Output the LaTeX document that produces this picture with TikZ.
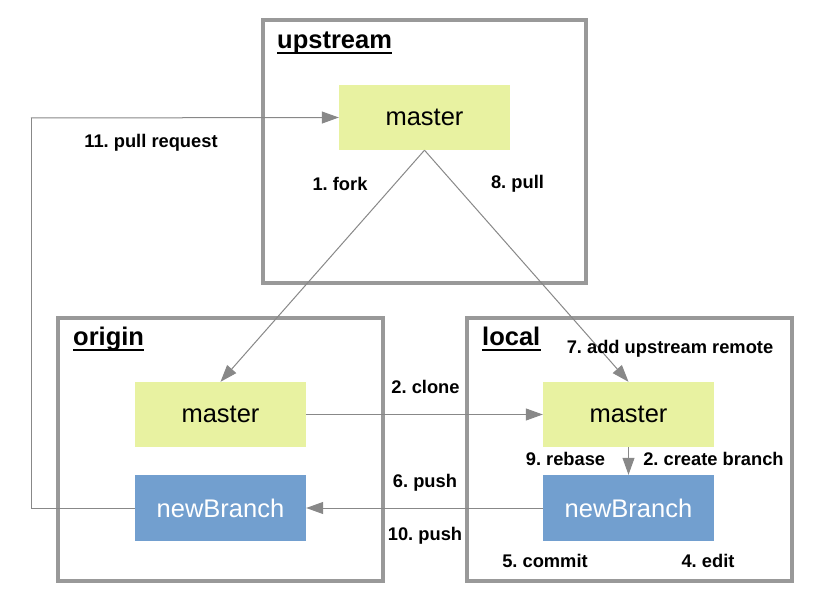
\documentclass[tikz,border=0pt]{standalone}
\usepackage{fontspec}
\setmainfont{Liberation Sans}
\usetikzlibrary{arrows.meta}
\definecolor{boxborder}{HTML}{999999}
\definecolor{linegray}{HTML}{888888}
\definecolor{masterfill}{HTML}{E8F2A1}
\definecolor{branchfill}{HTML}{729FCF}
\frenchspacing
\begin{document}
\begin{tikzpicture}[x=1pt,y=-1pt,
  container/.style={draw=boxborder,line width=4pt},
  masterbox/.style={fill=masterfill,minimum width=171pt,minimum height=65pt,inner sep=0pt,font=\fontsize{25.5}{30}\selectfont},
  branchbox/.style={fill=branchfill,text=white,minimum width=171pt,minimum height=66pt,inner sep=0pt,font=\fontsize{25.5}{30}\selectfont},
  title/.style={anchor=base west,inner sep=0pt,font=\bfseries\fontsize{25.5}{30}\selectfont},
  lbl/.style={anchor=base,inner sep=0pt,font=\bfseries\frenchspacing\fontsize{18.3}{22}\selectfont},
  conn/.style={draw=linegray,line width=1pt,-{Triangle[length=17pt,width=12pt]}},
  plain/.style={draw=linegray,line width=1pt}
]
\useasboundingbox (0,0) rectangle (817,601);
\fill[white] (0,0) rectangle (817,601);

% containers
\draw[container] (263,20) rectangle (586,283);
\draw[container] (58,318) rectangle (383,581);
\draw[container] (467,318) rectangle (792,581);

% titles
\node[title] (tup) at (277,49) {upstream};
\node[title] (tor) at (73,346) {origin};
\node[title] (tlo) at (482,346) {local};
\foreach \t in {tup,tor,tlo}{
  \draw[line width=2pt] ([yshift=-4pt]\t.base west) -- ([yshift=-4pt]\t.base east);
}

% branch nodes
\node[masterbox] (um) at (424.5,117.5) {master};
\node[masterbox] (om) at (220.5,414.5) {master};
\node[branchbox] (ob) at (220.5,508) {newBranch};
\node[masterbox] (lm) at (628.5,414.5) {master};
\node[branchbox] (lb) at (628.5,508) {newBranch};

% connectors
\coordinate (prc) at (31,508);
\coordinate (prt) at (31,118);
\draw[plain] (ob.west) -- (prc) -- (prt);
\draw[conn] (prt) -- (um.west);
\draw[conn] (um.south) -- (om.north);
\draw[conn] (um.south) -- (lm.north);
\draw[conn] (om.east) -- (lm.west);
\draw[conn] (lb.west) -- (ob.east);
\draw[conn] (lm.south) -- (lb.north);

% labels
\node[lbl] (l11) at (151,148) {11. pull request};
\node[lbl] (l1) at (340,191) {1. fork};
\node[lbl] (l8) at (517.5,189) {8. pull};
\node[lbl] (l7) at (670,354) {7. add upstream remote};
\node[lbl] (l2c) at (425.5,394) {2. clone};
\node[lbl] (l6) at (425,487) {6. push};
\node[lbl] (l10) at (425,540) {10. push};
\node[lbl] (l9) at (565.5,466) {9. rebase};
\node[lbl] (l2b) at (713.5,466) {2. create branch};
\node[lbl] (l5) at (545,567) {5. commit};
\node[lbl] (l4) at (708,567) {4. edit};
\end{tikzpicture}
\end{document}
